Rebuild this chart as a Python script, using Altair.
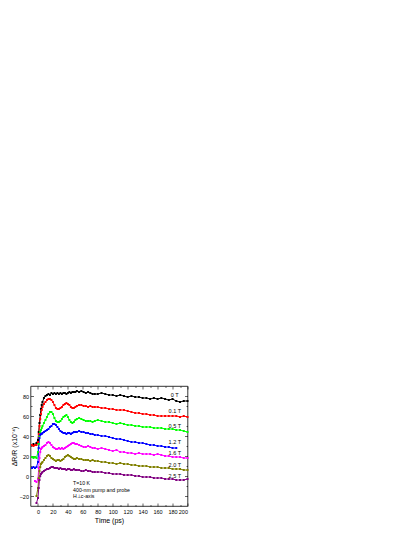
import altair as alt
import pandas as pd

# time axis (ps)
T = [-8, -6, -4, -2, 0, 1, 2, 3, 4, 5, 6,
     8, 10, 12, 14, 16, 18, 20, 22, 24, 26, 28, 30, 32, 34, 36, 38, 40, 42, 44, 46, 48, 50, 52,
     55, 58, 61, 64, 67, 70, 73, 76,
     80, 85, 90, 95, 100, 105, 110, 115, 120, 125, 130, 135, 140, 145, 150, 155, 160, 165,
     170, 175, 180, 185, 190, 195, 200]

S_0T = [31, 32, 31, 33, 36, 44, 53, 61, 67, 71, 74,
        78, 80, 81, 82, 81, 83, 82, 83, 82, 83, 82, 83, 82, 83, 83, 82, 83, 84, 83, 84, 84, 84, 85,
        84, 85, 84, 83, 84, 83, 82, 82,
        82, 83, 82, 81, 81, 80, 81, 80, 79, 80, 79, 79, 78, 78, 77, 78, 77, 78, 77, 76, 77, 75, 74, 75, 75]
S_01T = [31, 30, 31, 31, 34, 42, 50, 57, 62, 66, 69,
         72, 74, 76, 77, 77, 76, 74, 71, 68, 67, 67, 68, 69, 71, 72, 73, 72, 71, 69, 68, 68, 69, 70,
         71, 71, 70, 70, 69, 70, 69, 69,
         69, 68, 68, 67, 67, 66, 66, 66, 65, 64, 63, 63, 62, 62, 61, 61, 60, 60, 60, 60, 60, 60, 59, 60, 59]
S_05T = [19, 18, 19, 18, 24, 32, 40, 44, 46, 48, 50,
         53, 56, 59, 62, 64, 64, 62, 58, 55, 54, 54, 55, 57, 59, 60, 61, 59, 56, 54, 53, 54, 56, 57,
         58, 57, 56, 55, 55, 55, 54, 55,
         56, 55, 54, 54, 53, 52, 53, 52, 51, 51, 50, 50, 49, 49, 49, 48, 48, 48, 47, 47, 47, 46, 46, 45, 44]
S_12T = [8, 9, 8, 9, 14, 28, 38, 41, 42, 42, 43,
         44, 45, 46, 47, 49, 50, 52, 52, 51, 49, 47, 45, 44, 43, 43, 42, 43, 43, 42, 43, 44, 44, 44,
         45, 44, 44, 43, 43, 42, 42, 41,
         41, 40, 40, 39, 38, 37, 37, 36, 35, 34, 34, 33, 33, 32, 31, 31, 30, 30, 29, 29, 28, 28, None, None, None]
S_16T = [None, None, -5, -6, -3, 8, 18, 24, 27, 28, 29,
         30, 31, 33, 34, 33, 31, 29, 28, 27, 27, 28, 27, 28, 27, 28, 29, 30, 31, 32, 33, 33, 32, 32,
         31, 30, 29, 29, 30, 29, 28, 28,
         27, 28, 27, 26, 25, 26, 24, 24, 23, 23, 22, 23, 22, 22, 22, 21, 22, 21, 20, 20, 19, 19, 19, 18, 18]
S_20T = [None, None, None, -20, -12, -2, 5, 9, 12, 13, 14,
         16, 18, 20, 21, 20, 18, 17, 16, 15, 16, 16, 15, 16, 17, 19, 20, 21, 20, 19, 18, 17, 17, 18,
         17, 17, 16, 16, 16, 15, 16, 15,
         15, 14, 14, 13, 13, 12, 13, 12, 12, 11, 11, 10, 10, 10, 9, 9, 9, 8, 8, 8, 7, 7, 7, 6, 6]
S_25T = [None, None, None, -27, -22, -12, -4, 0, 2, 3, 4,
         5, 6, 7, 7, 8, 9, 9, 8, 8, 8, 7, 8, 7, 7, 7, 6, 7, 7, 6, 6, 7, 6, 6,
         6, 5, 5, 6, 5, 5, 4, 4,
         4, 4, 3, 3, 2, 2, 2, 1, 1, 1, 0, 0, -1, -1, -1, -2, -2, -2, -3, -3, -3, -4, -4, -4, -3]

SERIES = ["0 T", "0.1 T", "0.5 T", "1.2 T", "1.6 T", "2.0 T", "2.5 T"]
VALUES = [S_0T, S_01T, S_05T, S_12T, S_16T, S_20T, S_25T]
COLORS = ["#000000", "#ff0000", "#00ff00", "#0000ff", "#ff00ff", "#808000", "#800080"]

LABEL_T = 183
LABEL_Y = [81, 65, 50, 34, 23.5, 11, 0.5]

NOTES = ["T=10 K", "400-nm pump and probe", "H\u22a5c-axis"]
NOTE_T = 47
NOTE_Y = [-6.5, -13.5, -19.5]

X_LABELS = list(range(0, 201, 20))
X_TICKS = list(range(0, 201, 10))
Y_LABELS = list(range(-20, 81, 20))
Y_TICKS = list(range(-20, 81, 10))

W, H = 157, 120
FONT = "Liberation Sans"

rows = []
for name, vals in zip(SERIES, VALUES):
    for t, v in zip(T, vals):
        if v is not None:
            rows.append({"t": t, "v": v, "s": name})
df = pd.DataFrame(rows)
labels_df = pd.DataFrame({"t": [LABEL_T] * len(SERIES), "v": LABEL_Y, "txt": SERIES})
notes_df = pd.DataFrame({"t": [NOTE_T] * len(NOTES), "v": NOTE_Y, "txt": NOTES})

xs = alt.Scale(domain=[-10, 200], nice=False, zero=False)
ys = alt.Scale(domain=[-30, 90], nice=False, zero=False)
cs = alt.Scale(domain=SERIES, range=COLORS)

tick_size = {"condition": {"test": "datum.value % 20 === 0", "value": 3}, "value": 1.5}


def tick_axis(orient, offset, values):
    return alt.Axis(orient=orient, offset=offset, values=values, labels=False, domain=False,
                    grid=False, ticks=True, tickSize=tick_size, tickColor="black",
                    tickWidth=0.6, title=None)


lines = alt.Chart(df).mark_line(strokeWidth=1).encode(
    x=alt.X("t:Q", scale=xs, axis=alt.Axis(
        orient="bottom", values=X_LABELS, ticks=False, domain=False, grid=False,
        labelFontSize=5.5, labelPadding=3, labelFont=FONT, labelColor="black",
        title="Time (ps)", titleFont=FONT, titleFontSize=7, titleFontWeight="normal",
        titleColor="black", titlePadding=2)),
    y=alt.Y("v:Q", scale=ys, axis=alt.Axis(
        orient="left", values=Y_LABELS, ticks=False, domain=False, grid=False,
        labelFontSize=5.5, labelPadding=2, labelFont=FONT, labelColor="black",
        title="\u0394R/R (x10\u207b\u2074)", titleFont=FONT, titleFontSize=7,
        titleFontWeight="normal", titleColor="black", titlePadding=2)),
    color=alt.Color("s:N", scale=cs, legend=None),
    order="t:Q",
)

points = alt.Chart(df).mark_point(shape="square", size=4, filled=True, opacity=1).encode(
    x=alt.X("t:Q", scale=xs, axis=None),
    y=alt.Y("v:Q", scale=ys, axis=None),
    color=alt.Color("s:N", scale=cs, legend=None),
)

labels = alt.Chart(labels_df).mark_text(
    font=FONT, fontSize=5.5, color="black", align="center", baseline="middle"
).encode(
    x=alt.X("t:Q", scale=xs, axis=tick_axis("top", -H, X_TICKS)),
    y=alt.Y("v:Q", scale=ys, axis=tick_axis("right", -W, Y_TICKS)),
    text="txt:N",
)

notes = alt.Chart(notes_df).mark_text(
    font=FONT, fontSize=5.2, color="black", align="left", baseline="middle"
).encode(
    x=alt.X("t:Q", scale=xs, axis=tick_axis("bottom", -H, X_TICKS)),
    y=alt.Y("v:Q", scale=ys, axis=tick_axis("left", -W, Y_TICKS)),
    text="txt:N",
)

chart = alt.layer(lines, points, labels, notes).resolve_axis(
    x="independent", y="independent"
).properties(
    width=W, height=H,
    autosize=alt.AutoSizeParams(type="none"),
    padding={"left": 22.5, "top": 378, "right": 20, "bottom": 25},
).configure_view(stroke="black", strokeWidth=0.8)

chart.save("out.html", embed_options={"renderer": "svg", "actions": False})
